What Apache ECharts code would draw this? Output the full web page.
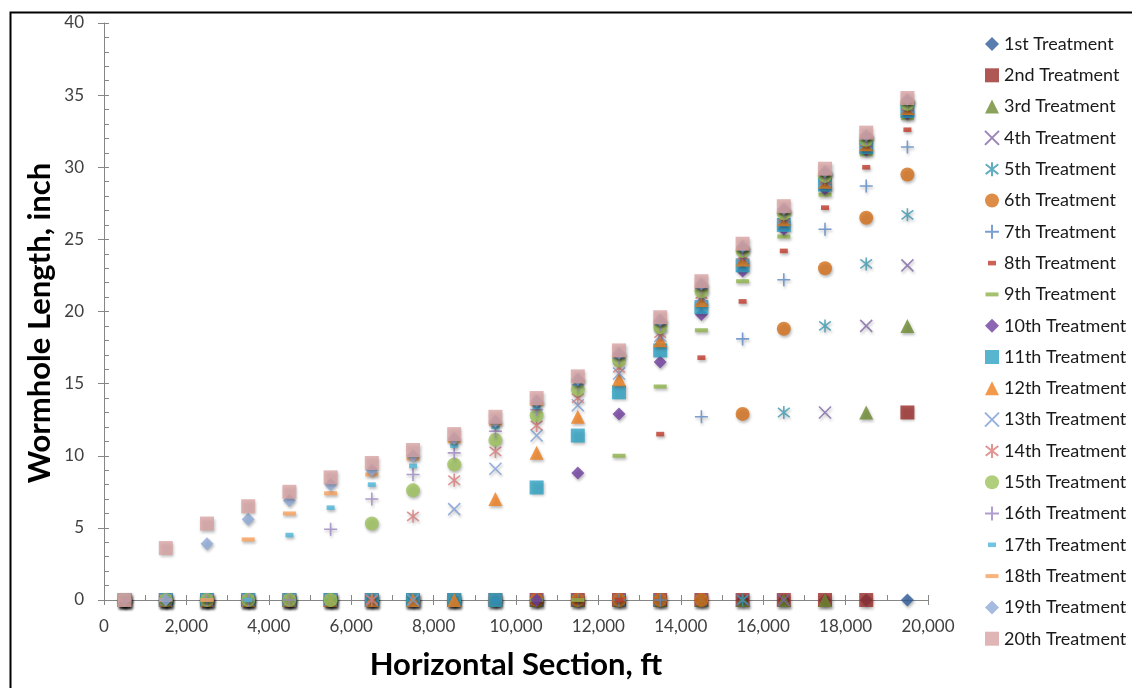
<!DOCTYPE html>
<html>
<head>
<meta charset="utf-8">
<script src="https://cdn.jsdelivr.net/npm/echarts@6/dist/echarts.min.js"></script>
<style>
html,body{margin:0;padding:0;background:#fff;}
#chart{width:1132px;height:688px;}
</style>
</head>
<body>
<div id="chart"></div>
<script>
// Horizontal positions (ft)
const xValues = [500,1500,2500,3500,4500,5500,6500,7500,8500,9500,10500,11500,12500,13500,14500,15500,16500,17500,18500,19500];
const treatmentNames = ['1st Treatment','2nd Treatment','3rd Treatment','4th Treatment','5th Treatment','6th Treatment','7th Treatment','8th Treatment','9th Treatment','10th Treatment','11th Treatment','12th Treatment','13th Treatment','14th Treatment','15th Treatment','16th Treatment','17th Treatment','18th Treatment','19th Treatment','20th Treatment'];
const yTicks = [0,5,10,15,20,25,30,35,40];
const xTicks = [0,2000,4000,6000,8000,10000,12000,14000,16000,18000,20000];
// Wormhole length (inch) at each position of xValues
const t1  = [0,0,0,0,0,0,0,0,0,0,0,0,0,0,0,0,0,0,0,0];
const t2  = [0,0,0,0,0,0,0,0,0,0,0,0,0,0,0,0,0,0,0,13.0];
const t3  = [0,0,0,0,0,0,0,0,0,0,0,0,0,0,0,0,0,0,13.0,19.0];
const t4  = [0,0,0,0,0,0,0,0,0,0,0,0,0,0,0,0,0,13.0,19.0,23.2];
const t5  = [0,0,0,0,0,0,0,0,0,0,0,0,0,0,0,0,13.0,19.0,23.3,26.7];
const t6  = [0,0,0,0,0,0,0,0,0,0,0,0,0,0,0,12.9,18.8,23.0,26.5,29.5];
const t7  = [0,0,0,0,0,0,0,0,0,0,0,0,0,0,12.7,18.1,22.2,25.7,28.7,31.4];
const t8  = [0,0,0,0,0,0,0,0,0,0,0,0,0,11.5,16.8,20.7,24.2,27.2,30.0,32.6];
const t9  = [0,0,0,0,0,0,0,0,0,0,0,0,10.0,14.8,18.7,22.1,25.2,28.1,30.9,33.4];
const t10 = [0,0,0,0,0,0,0,0,0,0,0,8.8,12.9,16.5,19.8,22.8,25.7,28.5,31.2,33.7];
const t11 = [0,0,0,0,0,0,0,0,0,0,7.8,11.4,14.4,17.3,20.3,23.2,26.0,28.8,31.4,33.9];
const t12 = [0,0,0,0,0,0,0,0,0,7.0,10.2,12.7,15.3,18.0,20.8,23.6,26.4,29.0,31.6,34.1];
const t13 = [0,0,0,0,0,0,0,0,6.3,9.1,11.4,13.5,15.7,18.3,21.0,23.8,26.5,29.1,31.7,34.2];
const t14 = [0,0,0,0,0,0,0,5.8,8.3,10.3,12.1,14.0,16.1,18.5,21.2,23.9,26.6,29.2,31.8,34.3];
const t15 = [0,0,0,0,0,0,5.3,7.6,9.4,11.1,12.8,14.6,16.6,18.9,21.4,24.2,26.8,29.4,31.9,34.4];
const t16 = [0,0,0,0,0,4.9,7.0,8.7,10.2,11.7,13.2,14.9,16.8,19.1,21.6,24.3,26.9,29.5,32.0,34.5];
const t17 = [0,0,0,0,4.5,6.4,8.0,9.3,10.7,12.0,13.4,15.0,16.9,19.2,21.7,24.3,27.0,29.6,32.1,34.6];
const t18 = [0,0,0,4.2,6.0,7.4,8.7,9.8,11.0,12.2,13.6,15.2,17.0,19.3,21.8,24.4,27.0,29.6,32.2,34.6];
const t19 = [0,0,3.9,5.6,6.9,8.0,9.0,10.0,11.2,12.4,13.8,15.3,17.1,19.4,21.9,24.5,27.1,29.7,32.2,34.7];
const t20 = [0,3.6,5.3,6.5,7.5,8.5,9.5,10.4,11.5,12.7,14.0,15.5,17.3,19.6,22.1,24.7,27.3,29.9,32.4,34.8];
const treatments = [t1,t2,t3,t4,t5,t6,t7,t8,t9,t10,t11,t12,t13,t14,t15,t16,t17,t18,t19,t20];

const colors = ['#2F5C9A','#9B2D2A','#6E8B32','#8066A6','#3C98B0','#D4701A','#5A87C4','#C0392B','#8DB34A','#6F3FA0',
                '#2EA3C4','#F07F1E','#7C9ED6','#D87A78','#9CC25A','#9B86C2','#4FB7DA','#F9A05A','#90AAD8','#D8A2A4'];

const X_PATH = 'path://M0,0L10,10M10,0L0,10';
const PLUS_PATH = 'path://M5,0L5,10M0,5L10,5';
const STAR_PATH = 'path://M0.5,1.5L9.5,8.5M9.5,1.5L0.5,8.5M5,0L5,10';
// dashes drawn inside a square 14x14 frame (the move-to points keep the frame square)
const SHORT_DASH = 'path://M0,0M14,14M3,4.7L11,4.7L11,9.3L3,9.3Z';
const LONG_DASH = 'path://M0,0M14,14M0.5,5L13.5,5L13.5,9L0.5,9Z';

// marker style cycle (Excel-like)
const markerCycle = [
  {symbol:'diamond', size:13, fill:true},
  {symbol:'rect', size:14, fill:true},
  {symbol:'triangle', size:14, fill:true},
  {symbol:X_PATH, size:12, fill:false},
  {symbol:STAR_PATH, size:13, fill:false},
  {symbol:'circle', size:14, fill:true},
  {symbol:PLUS_PATH, size:13, fill:false},
  {symbol:SHORT_DASH, size:14, fill:true},
  {symbol:LONG_DASH, size:14, fill:true}
];

const series = treatments.map((vals, i) => {
  const m = markerCycle[i % 9];
  const data = vals.map((v, j) => [xValues[j], v]);
  const itemStyle = m.fill ? {
      color: colors[i],
      shadowBlur: 3, shadowColor: 'rgba(0,0,0,0.35)', shadowOffsetX: 1, shadowOffsetY: 2
    } : {
      color: 'rgba(0,0,0,0)', borderColor: colors[i], borderWidth: 1.6,
      shadowBlur: 3, shadowColor: 'rgba(0,0,0,0.3)', shadowOffsetX: 1, shadowOffsetY: 2
    };
  return {
    name: treatmentNames[i],
    type: 'scatter',
    symbol: m.symbol,
    symbolSize: m.size,
    symbolKeepAspect: true,
    itemStyle: itemStyle,
    emphasis: {disabled: true},
    data: data
  };
});

const chart = echarts.init(document.getElementById('chart'), null, {renderer: 'canvas'});
const labelFont = 'Lato, "Open Sans", sans-serif';
chart.setOption({
  animation: false,
  backgroundColor: '#ffffff',
  graphic: [{
    type: 'rect', left: 8, top: 10, z: 100, silent: true,
    shape: {x: 0, y: 0, width: 1140, height: 700},
    style: {fill: 'none', stroke: '#000', lineWidth: 2}
  }, {
    type: 'text', x: 516, y: 665, silent: true,
    style: {text: 'Horizontal Section, ft', fontSize: 31, fontWeight: 'bold', fill: '#000',
      fontFamily: labelFont, align: 'center', verticalAlign: 'middle'}
  }, {
    type: 'text', x: 40, y: 323, rotation: Math.PI / 2, silent: true,
    style: {text: 'Wormhole Length, inch', fontSize: 31, fontWeight: 'bold', fill: '#000',
      fontFamily: labelFont, align: 'center', verticalAlign: 'middle'}
  }],
  grid: {left: 104, right: 204, top: 23, bottom: 88, containLabel: false},
  xAxis: [{
    type: 'value', min: xTicks[0], max: xTicks[xTicks.length - 1], interval: xTicks[1] - xTicks[0],
    axisLine: {show: true, lineStyle: {color: '#868686', width: 1}},
    axisTick: {show: true, inside: false, length: 5, lineStyle: {color: '#868686'}},
    splitLine: {show: false},
    axisLabel: {fontSize: 17, color: '#404040', fontFamily: labelFont, margin: 18,
      formatter: v => v.toLocaleString('en-US')}
  }, {
    type: 'value', min: xTicks[0], max: xTicks[xTicks.length - 1], interval: (xTicks[1] - xTicks[0]) / 2, position: 'bottom',
    axisLine: {show: false}, axisLabel: {show: false}, splitLine: {show: false},
    axisTick: {show: true, inside: true, length: 5, lineStyle: {color: '#868686'}}
  }],
  yAxis: [{
    type: 'value', min: yTicks[0], max: yTicks[yTicks.length - 1], interval: yTicks[1] - yTicks[0],
    axisLine: {show: true, lineStyle: {color: '#868686', width: 1}},
    axisTick: {show: true, inside: false, length: 6, lineStyle: {color: '#868686'}},
    splitLine: {show: false},
    axisLabel: {fontSize: 17, color: '#404040', fontFamily: labelFont, margin: 20}
  }, {
    type: 'value', min: yTicks[0], max: yTicks[yTicks.length - 1], interval: 1, position: 'left',
    axisLine: {show: false}, axisLabel: {show: false}, splitLine: {show: false},
    axisTick: {show: true, inside: true, length: 5, lineStyle: {color: '#868686'}}
  }],
  legend: {
    orient: 'vertical', left: 979, top: 30,
    itemWidth: 14, itemHeight: 14, itemGap: 13.3,
    textStyle: {fontSize: 18, color: '#1a1a1a', fontFamily: labelFont},
    data: treatmentNames
  },
  series: series
});
</script>
</body>
</html>
